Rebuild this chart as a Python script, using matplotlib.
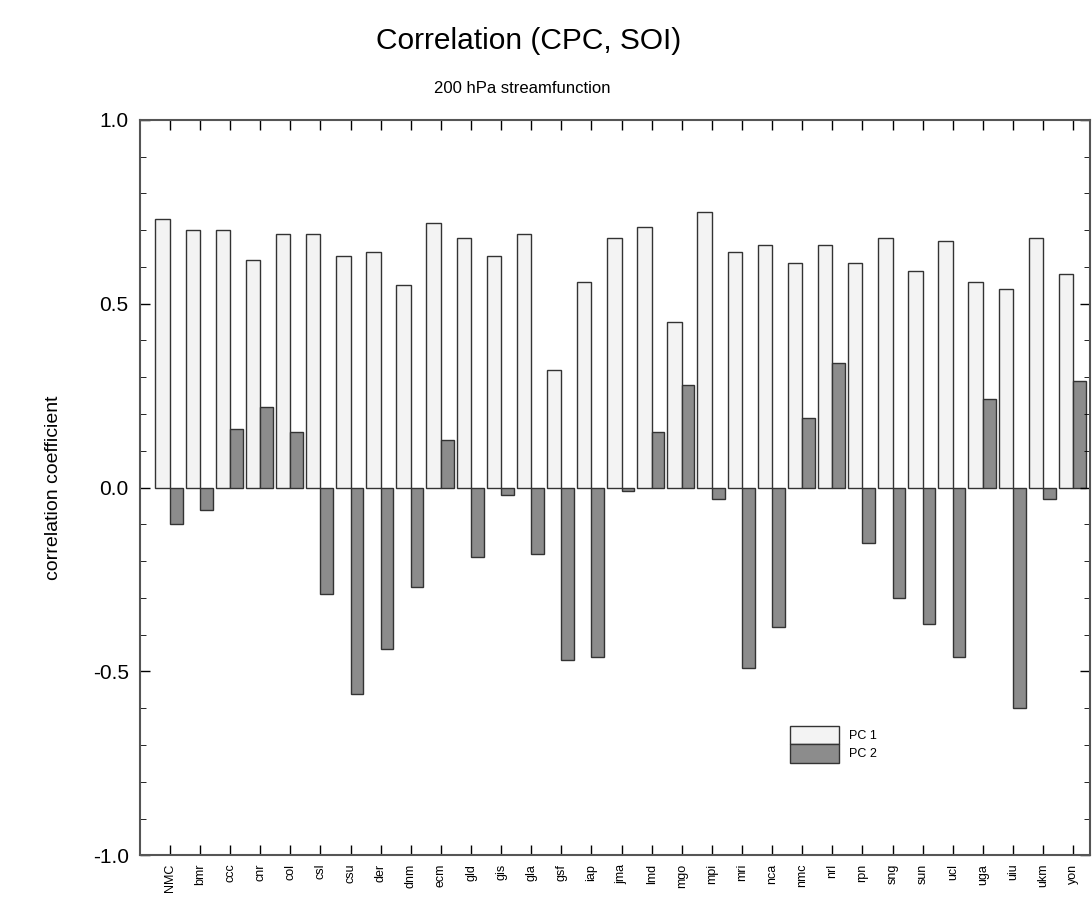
import matplotlib
matplotlib.use('agg')
import numpy as np
import matplotlib.pyplot as plt
from matplotlib.ticker import MultipleLocator

plt.rcParams['font.family'] = ['Liberation Sans', 'DejaVu Sans']

# model labels along the x axis
models = ["NMC", "bmr", "ccc", "cnr", "col", "csl", "csu", "der", "dnm", "ecm",
          "gld", "gis", "gla", "gsf", "iap", "jma", "lmd", "mgo", "mpi", "mri",
          "nca", "nmc", "nrl", "rpn", "sng", "sun", "ucl", "uga", "uiu", "ukm", "yon"]

pc1 = [0.73, 0.70, 0.70, 0.62, 0.69, 0.69, 0.63, 0.64, 0.55, 0.72,
       0.68, 0.63, 0.69, 0.32, 0.56, 0.68, 0.71, 0.45, 0.75, 0.64,
       0.66, 0.61, 0.66, 0.61, 0.68, 0.59, 0.67, 0.56, 0.54, 0.68, 0.58]

pc2 = [-0.10, -0.06, 0.16, 0.22, 0.15, -0.29, -0.56, -0.44, -0.27, 0.13,
       -0.19, -0.02, -0.18, -0.47, -0.46, -0.01, 0.15, 0.28, -0.03, -0.49,
       -0.38, 0.19, 0.34, -0.15, -0.30, -0.37, -0.46, 0.24, -0.60, -0.03, 0.29]

x = np.arange(1, len(models) + 1)

fig = plt.figure(figsize=(10.92, 9.08), dpi=100)
ax = fig.add_axes([0.128, 0.058, 0.870, 0.810])

ax.bar(x, pc1, width=0.48, align='edge', color='#f3f3f3', edgecolor='#333333',
       linewidth=1.0, label='PC 1')
ax.bar(x, pc2, width=0.42, align='edge', color='#8c8c8c', edgecolor='#333333',
       linewidth=1.0, label='PC 2')
# PC1 sits to the left of the tick
for p in ax.patches[:len(models)]:
    p.set_x(p.get_x() - 0.48)

ax.set_xlim(0, 31.55)
ax.set_ylim(-1.0, 1.0)
ax.set_xticks(x)
ax.set_xticklabels(models, rotation=90, fontsize=9)
ax.yaxis.set_major_locator(MultipleLocator(0.5))
ax.yaxis.set_minor_locator(MultipleLocator(0.1))
ax.set_yticks([-1.0, -0.5, 0.0, 0.5, 1.0])
ax.set_yticklabels(['-1.0', '-0.5', '0.0', '0.5', '1.0'], fontsize=15)
ax.tick_params(axis='both', which='both', direction='in', top=True, right=True)
ax.tick_params(axis='both', which='major', length=7, width=1, pad=8)
ax.tick_params(axis='y', which='minor', length=4)
ax.tick_params(axis='x', pad=6)
for s in ax.spines.values():
    s.set_color('#555555')
    s.set_linewidth(1.5)

ax.set_ylabel('correlation coefficient', fontsize=14, labelpad=22)

fig.text(0.484, 0.955, 'Correlation (CPC, SOI)', fontsize=21.5, ha='center', va='center')
fig.text(0.478, 0.903, '200 hPa streamfunction', fontsize=12, ha='center', va='center')

ax.legend(loc='upper left', bbox_to_anchor=(0.678, 0.185), frameon=False,
          fontsize=9, handlelength=3.9, handleheight=1.9, labelspacing=0.0,
          handletextpad=0.8, borderpad=0)

fig.savefig('out.png', dpi=100)
